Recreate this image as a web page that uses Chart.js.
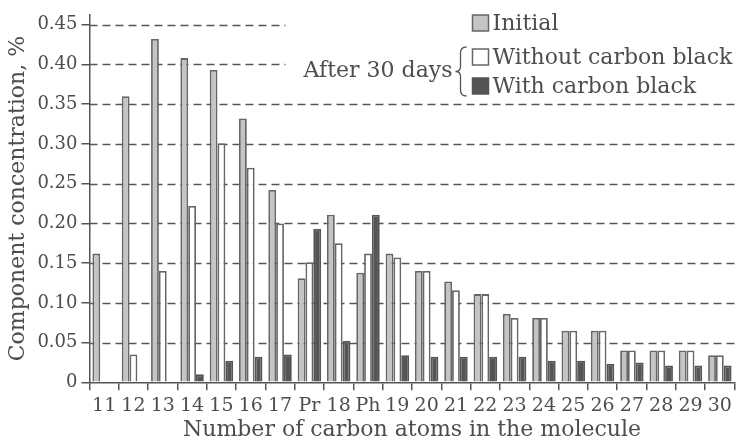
<!DOCTYPE html>
<html>
<head>
<meta charset="utf-8">
<script src="https://cdn.jsdelivr.net/npm/chart.js@4/dist/chart.umd.min.js"></script>
<style>
  html, body { margin: 0; padding: 0; background: #fff; }
  #wrap { width: 738px; height: 440px; position: relative; }
</style>
</head>
<body>
<div id="wrap"><canvas id="chart"></canvas></div>
<script>
// categories (carbon number, Pr = pristane, Ph = phytane)
const categories = ['11', '12', '13', '14', '15', '16', '17', 'Pr', '18', 'Ph', '19',
  '20', '21', '22', '23', '24', '25', '26', '27', '28', '29', '30'];

// concentration, %
const initial = [0.162, 0.360, 0.432, 0.408, 0.393, 0.332, 0.242, 0.131, 0.211, 0.138, 0.162,
  0.140, 0.127, 0.111, 0.086, 0.081, 0.065, 0.065, 0.040, 0.040, 0.040, 0.034];
const withoutCB = [null, 0.035, 0.140, 0.222, 0.301, 0.270, 0.200, 0.151, 0.175, 0.162, 0.157,
  0.140, 0.116, 0.111, 0.081, 0.081, 0.065, 0.065, 0.040, 0.040, 0.040, 0.034];
const withCB = [null, null, null, 0.010, 0.027, 0.032, 0.035, 0.193, 0.052, 0.211, 0.034,
  0.032, 0.032, 0.032, 0.032, 0.027, 0.027, 0.023, 0.025, 0.021, 0.021, 0.021];

const yTicks = [0, 0.05, 0.10, 0.15, 0.20, 0.25, 0.30, 0.35, 0.40, 0.45];
const seriesLabels = ['Initial', 'Without carbon black', 'With carbon black'];
const groupLabel = 'After 30 days';

const FONT = '"DejaVu Serif", "Liberation Serif", serif';
const INK = '#4d4d4d';
const LINE = '#555';

// dashed grid, top two lines stop before the legend text
const dashedGrid = {
  id: 'dashedGrid',
  beforeDatasetsDraw(chart) {
    const { ctx, chartArea, scales } = chart;
    ctx.save();
    ctx.font = '22px ' + FONT;
    const boxX = chartArea.right - 262;
    const clipX = boxX - 20 - ctx.measureText(groupLabel).width - 18;
    ctx.setLineDash([8, 5]);
    ctx.strokeStyle = LINE;
    ctx.lineWidth = 1.5;
    yTicks.forEach(v => {
      if (v === 0) return;
      const py = Math.round(scales.y.getPixelForValue(v)) + 0.5;
      const x2 = v >= 0.40 ? clipX : chartArea.right;
      ctx.beginPath();
      ctx.moveTo(chartArea.left, py);
      ctx.lineTo(x2, py);
      ctx.stroke();
    });
    ctx.restore();
  }
};

// legend with brace
const braceLegend = {
  id: 'braceLegend',
  afterDraw(chart) {
    const { ctx, chartArea } = chart;
    const boxX = chartArea.right - 262;
    const rows = [23, 57, 86];
    ctx.save();
    ctx.font = '22px ' + FONT;
    ctx.textBaseline = 'middle';
    chart.data.datasets.forEach((ds, i) => {
      const y = rows[i];
      ctx.fillStyle = ds.backgroundColor;
      ctx.fillRect(boxX, y - 8, 16, 16);
      ctx.strokeStyle = ds.borderColor;
      ctx.lineWidth = 1.5;
      ctx.strokeRect(boxX, y - 8, 16, 16);
      ctx.fillStyle = INK;
      ctx.textAlign = 'left';
      ctx.fillText(seriesLabels[i], boxX + 20, y + 1);
    });
    ctx.textAlign = 'right';
    ctx.fillText(groupLabel, boxX - 20, 71);

    // brace
    const bx = boxX - 12, top = 47, bot = 96, mid = (top + bot) / 2;
    ctx.strokeStyle = LINE;
    ctx.lineWidth = 1.3;
    ctx.beginPath();
    ctx.moveTo(bx + 6, top);
    ctx.quadraticCurveTo(bx, top, bx, top + 6);
    ctx.lineTo(bx, mid - 5);
    ctx.quadraticCurveTo(bx, mid, bx - 5, mid);
    ctx.quadraticCurveTo(bx, mid, bx, mid + 5);
    ctx.lineTo(bx, bot - 6);
    ctx.quadraticCurveTo(bx, bot, bx + 6, bot);
    ctx.stroke();
    ctx.restore();
  }
};

const ctx = document.getElementById('chart').getContext('2d');
new Chart(ctx, {
  type: 'bar',
  data: {
    labels: categories,
    datasets: [
      { label: seriesLabels[0], data: initial, backgroundColor: '#c4c4c4', borderColor: '#666', borderWidth: 1.8 },
      { label: seriesLabels[1], data: withoutCB, backgroundColor: '#ffffff', borderColor: '#666', borderWidth: 1.8 },
      { label: seriesLabels[2], data: withCB, backgroundColor: '#555555', borderColor: '#555', borderWidth: 1.8 },
    ],
  },
  options: {
    responsive: true,
    maintainAspectRatio: false,
    animation: false,
    categoryPercentage: 0.8,
    barPercentage: 1.0,
    layout: { padding: { left: 5, right: 3, top: 12, bottom: 0 } },
    plugins: {
      legend: { display: false },
      tooltip: { enabled: false },
    },
    scales: {
      x: {
        grid: { drawOnChartArea: false, drawTicks: true, tickLength: 8, color: LINE, lineWidth: 1.5, offset: true },
        border: { display: true, color: LINE, width: 1.5 },
        ticks: { font: { family: FONT, size: 19, lineHeight: 1 }, color: INK, padding: 6, maxRotation: 0, autoSkip: false },
        title: {
          display: true,
          text: 'Number of carbon atoms in the molecule',
          font: { family: FONT, size: 22, lineHeight: 0.85 },
          color: INK,
          padding: { top: 0, bottom: 0 },
        },
      },
      y: {
        min: 0,
        max: 0.4625,
        afterBuildTicks: (scale) => { scale.ticks = yTicks.map(v => ({ value: v })); },
        grid: { drawOnChartArea: false, drawTicks: true, tickLength: 8, color: LINE, lineWidth: 1.5 },
        border: { display: true, color: LINE, width: 1.5 },
        ticks: {
          font: { family: FONT, size: 18 },
          color: INK,
          padding: 4,
          callback: (v) => (v === 0 ? '0' : v.toFixed(2)),
        },
        title: {
          display: true,
          text: 'Component concentration, %',
          font: { family: FONT, size: 22 },
          color: INK,
          padding: { top: 0, bottom: 2 },
        },
      },
    },
  },
  plugins: [dashedGrid, braceLegend],
});
</script>
</body>
</html>
